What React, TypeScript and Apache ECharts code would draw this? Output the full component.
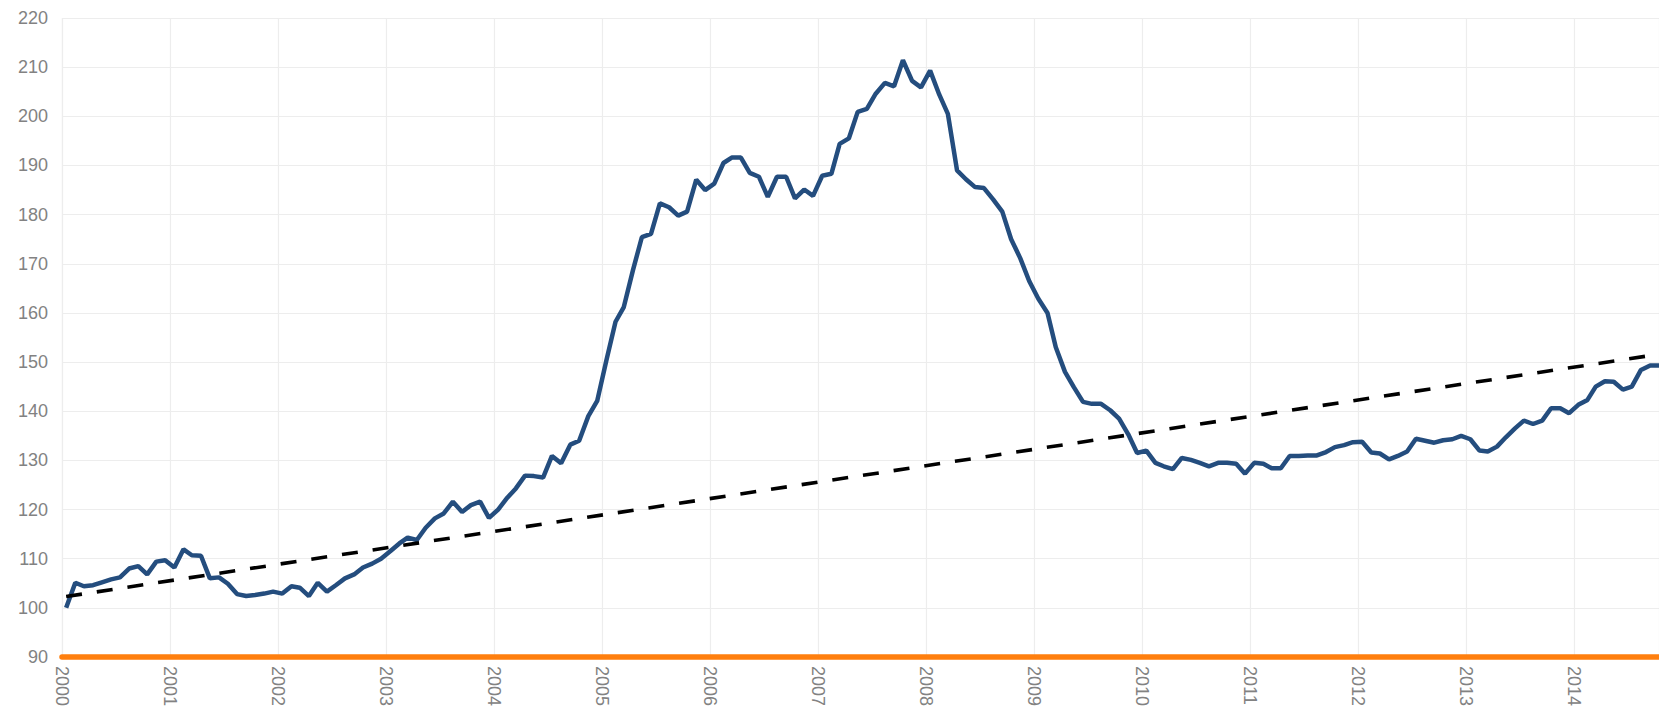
import React, { useEffect, useRef } from 'react';
import * as echarts from 'echarts';

// Monthly index values (Jan 2000 = 100)
const startYear = 2000;
const v2000 = [100.0, 105.1, 104.4, 104.6, 105.2, 105.8, 106.2, 108.0, 108.5, 106.8, 109.4, 109.7];
const v2001 = [108.2, 111.9, 110.7, 110.6, 106.0, 106.2, 104.9, 102.8, 102.4, 102.6, 102.9, 103.3];
const v2002 = [102.9, 104.4, 104.1, 102.4, 105.1, 103.3, 104.6, 106.0, 106.8, 108.2, 109.0, 110.0];
const v2003 = [111.5, 113.1, 114.3, 113.8, 116.3, 118.2, 119.2, 121.6, 119.5, 120.9, 121.6, 118.3];
const v2004 = [120.0, 122.4, 124.3, 126.9, 126.8, 126.5, 130.9, 129.4, 133.2, 134.0, 139.0, 142.1];
const v2005 = [150.3, 158.2, 161.2, 168.7, 175.4, 176.1, 182.3, 181.5, 179.8, 180.6, 187.1, 185.0];
const v2006 = [186.3, 190.5, 191.6, 191.6, 188.5, 187.7, 183.6, 187.7, 187.7, 183.3, 185.1, 183.8];
const v2007 = [187.9, 188.3, 194.4, 195.5, 200.9, 201.5, 204.6, 206.8, 206.1, 211.4, 207.2, 205.9];
const v2008 = [209.3, 204.4, 200.5, 189.0, 187.2, 185.6, 185.4, 183.1, 180.6, 175.0, 171.1, 166.5];
const v2009 = [162.9, 160.0, 153.0, 148.0, 144.9, 141.9, 141.5, 141.5, 140.2, 138.5, 135.3, 131.5];
const v2010 = [132.0, 129.5, 128.8, 128.2, 130.5, 130.1, 129.5, 128.8, 129.5, 129.5, 129.3, 127.3];
const v2011 = [129.5, 129.3, 128.4, 128.4, 130.9, 130.9, 131.0, 131.0, 131.7, 132.7, 133.1, 133.7];
const v2012 = [133.8, 131.6, 131.4, 130.2, 130.9, 131.8, 134.4, 134.0, 133.6, 134.1, 134.3, 135.0];
const v2013 = [134.3, 132.0, 131.8, 132.8, 134.7, 136.5, 138.1, 137.4, 138.1, 140.6, 140.6, 139.6];
const v2014 = [141.3, 142.3, 145.0, 146.1, 146.0, 144.4, 145.0, 148.4, 149.3, 149.3];

// Linear trend line: values at the first and last month
const trendEnds = [102.3, 151.6];

// Y axis range
const yMin = 90;
const yMax = 220;
const yStep = 10;

const values = [
  ...v2000, ...v2001, ...v2002, ...v2003, ...v2004, ...v2005, ...v2006, ...v2007,
  ...v2008, ...v2009, ...v2010, ...v2011, ...v2012, ...v2013, ...v2014,
];
const dates = values.map(
  (_, i) => `${startYear + Math.floor(i / 12)}-${String((i % 12) + 1).padStart(2, '0')}-15`
);

export default function App() {
  const ref = useRef<HTMLDivElement>(null);

  useEffect(() => {
    if (!ref.current) return;
    const chart = echarts.init(ref.current, undefined, { renderer: 'svg' });
    const font = '"Liberation Sans", Arial, Helvetica, sans-serif';
    const last = dates.length - 1;
    chart.setOption({
      animation: false,
      backgroundColor: '#ffffff',
      grid: {
        left: 62,
        right: 0,
        top: 18,
        bottom: 54,
        containLabel: false,
        outerBoundsMode: 'none',
      },
      xAxis: {
        type: 'time',
        min: `${startYear}-01-01`,
        max: dates[last],
        minInterval: 365 * 24 * 3600 * 1000,
        maxInterval: 366 * 24 * 3600 * 1000,
        axisLine: { show: true, lineStyle: { color: '#ff7f0e', width: 5.5 } },
        axisTick: { show: false },
        splitLine: { show: true, lineStyle: { color: '#ededed', width: 1.2 } },
        axisLabel: {
          rotate: -90,
          margin: 9,
          fontSize: 18,
          color: '#828282',
          fontFamily: font,
          hideOverlap: false,
          formatter: (val: number) => {
            const d = new Date(val);
            return d.getMonth() === 0 && d.getDate() === 1 ? String(d.getFullYear()) : '';
          },
        },
      },
      yAxis: {
        type: 'value',
        min: yMin,
        max: yMax,
        interval: yStep,
        axisLine: { show: false },
        axisTick: { show: false },
        splitLine: { show: true, lineStyle: { color: '#ededed', width: 1.2 } },
        axisLabel: { fontSize: 18, color: '#828282', margin: 14, fontFamily: font },
      },
      series: [
        {
          name: 'Index',
          type: 'line',
          data: dates.map((d, i) => [d, values[i]]),
          symbol: 'none',
          lineStyle: { color: '#244d7e', width: 4.5 },
          z: 3,
        },
        {
          name: 'Trend',
          type: 'line',
          data: [
            [dates[0], trendEnds[0]],
            [dates[last], trendEnds[1]],
          ],
          symbol: 'none',
          lineStyle: { color: '#000000', width: 3.6, type: [16, 15] },
          z: 4,
        },
      ],
    });
    return () => chart.dispose();
  }, []);

  return (
    <div
      ref={ref}
      style={{ position: 'fixed', left: 0, top: 0, width: 1659, height: 711 }}
    />
  );
}
